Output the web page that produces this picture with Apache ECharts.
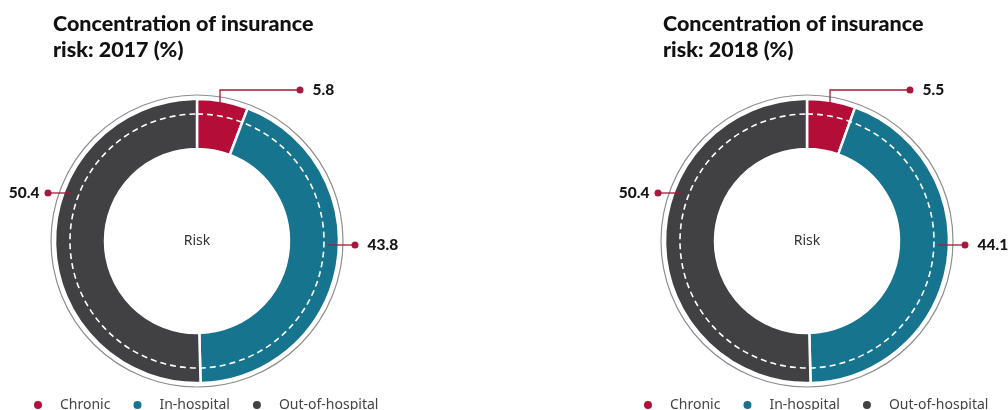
<!DOCTYPE html>
<html>
<head>
<meta charset="utf-8">
<script src="https://cdn.jsdelivr.net/npm/echarts@6/dist/echarts.min.js"></script>
<style>
  html, body { margin: 0; padding: 0; background: #fff; }
  #chart { width: 1008px; height: 410px; }
</style>
</head>
<body>
<div id="chart"></div>
<script>
// ---- data ----
const categories = ['Chronic', 'In-hospital', 'Out-of-hospital'];
const years = ['2017', '2018'];
const share2017 = [5.8, 43.8, 50.4];
const share2018 = [5.5, 44.1, 50.4];
const centerText = 'Risk';
const titleStart = 'Concentration of insurance\nrisk: ';

// ---- styling / layout ----
const COLORS = ['#b30d38', '#17748f', '#414143'];
const LINE_COLOR = '#a8183c';
const CY = 241;
const CENTERS_X = [197, 807];
const TITLE_X = [53, 663];
const LEGEND_X = [27, 637];
const R_INNER = 92, R_OUTER = 142, R_DASH = 127, R_FRAME = 146;
const DOT = 7;
const FONT = "'Noto Sans', sans-serif";

// leader path for each slice, as offsets from the pie centre:
// start inside the slice, optional elbow, and the end dot
const LEADERS = [
  { pts: [[23, -134], [23, -151], [103, -151]], side: 'right' },
  { pts: [[131, 4], [145, 4], [158, 4]], side: 'right' },
  { pts: [[-126, -48], [-138, -48], [-149, -48]], side: 'left' }
];

const rich = {
  dot: { width: DOT, height: DOT, borderRadius: DOT / 2, backgroundColor: LINE_COLOR },
  spR: { width: 9 },
  spL: { width: 5 },
  v: { fontFamily: 'Lato', fontWeight: 900, fontSize: 15.5, color: '#161616' }
};

function donut(values, k) {
  const cx = CENTERS_X[k];
  const slices = categories.map((n, i) => ({ name: n, value: values[i] }));
  return [
    {
      // coloured ring
      type: 'pie',
      center: [cx, CY],
      radius: [R_INNER, R_OUTER],
      startAngle: 90,
      clockwise: true,
      silent: true,
      data: slices.map((d, i) => Object.assign({ itemStyle: { color: COLORS[i] } }, d)),
      itemStyle: { borderColor: '#fff', borderWidth: 2.5 },
      label: { show: false },
      labelLine: { show: false },
      emphasis: { disabled: true }
    },
    {
      // dashed guide circle inside the ring, with the centre caption
      type: 'pie',
      z: 3,
      center: [cx, CY],
      radius: [0, R_DASH],
      silent: true,
      data: [{ name: centerText, value: 1 }],
      itemStyle: { color: 'transparent', borderColor: '#ffffff', borderWidth: 1.6, borderType: [6, 4] },
      label: { show: true, position: 'center', formatter: '{b}', fontFamily: FONT, fontSize: 14, color: '#333' },
      labelLine: { show: false },
      emphasis: { disabled: true }
    },
    {
      // thin grey frame around the ring
      type: 'pie',
      center: [cx, CY],
      radius: [0, R_FRAME],
      silent: true,
      data: [{ name: 'frame', value: 1 }],
      itemStyle: { color: 'transparent', borderColor: '#8e8e8e', borderWidth: 1.2 },
      label: { show: false },
      labelLine: { show: false },
      emphasis: { disabled: true }
    },
    {
      // same slices again, unfilled, carrying the value labels and leader lines on top
      type: 'pie',
      z: 4,
      center: [cx, CY],
      radius: [R_INNER, R_OUTER],
      startAngle: 90,
      clockwise: true,
      avoidLabelOverlap: false,
      silent: true,
      data: slices,
      itemStyle: { color: 'transparent', borderWidth: 0 },
      label: {
        show: true,
        position: 'outside',
        rich: rich,
        formatter: p => LEADERS[p.dataIndex].side === 'right'
          ? '{dot| }{spR| }{v|' + p.value + '}'
          : '{v|' + p.value + '}{spL| }{dot| }'
      },
      labelLine: { show: true, showAbove: true, length: 10, length2: 10, lineStyle: { color: LINE_COLOR, width: 1.3 } },
      labelLayout: params => {
        const L = LEADERS[params.dataIndex];
        const pts = L.pts.map(p => [cx + p[0], CY + p[1]]);
        const end = pts[pts.length - 1];
        const right = L.side === 'right';
        return {
          x: right ? end[0] - DOT / 2 : end[0] + DOT / 2,
          y: end[1],
          align: right ? 'left' : 'right',
          verticalAlign: 'middle',
          labelLinePoints: pts
        };
      },
      emphasis: { disabled: true }
    }
  ];
}

const chart = echarts.init(document.getElementById('chart'), null, { renderer: 'canvas' });
chart.setOption({
  animation: false,
  title: years.map((y, k) => ({
    text: titleStart + y + ' (%)',
    left: TITLE_X[k],
    top: 11,
    padding: 0,
    textStyle: { fontFamily: 'Lato', fontWeight: 900, fontSize: 21.5, lineHeight: 26, color: '#111' }
  })),
  legend: years.map((y, k) => ({
    data: categories,
    left: LEGEND_X[k],
    top: 393,
    icon: 'circle',
    itemWidth: 34,
    itemHeight: 10,
    itemGap: 21,
    selectedMode: false,
    textStyle: { fontFamily: FONT, fontSize: 14, color: '#444' }
  })),
  series: [].concat(donut(share2017, 0), donut(share2018, 1))
});
</script>
</body>
</html>
